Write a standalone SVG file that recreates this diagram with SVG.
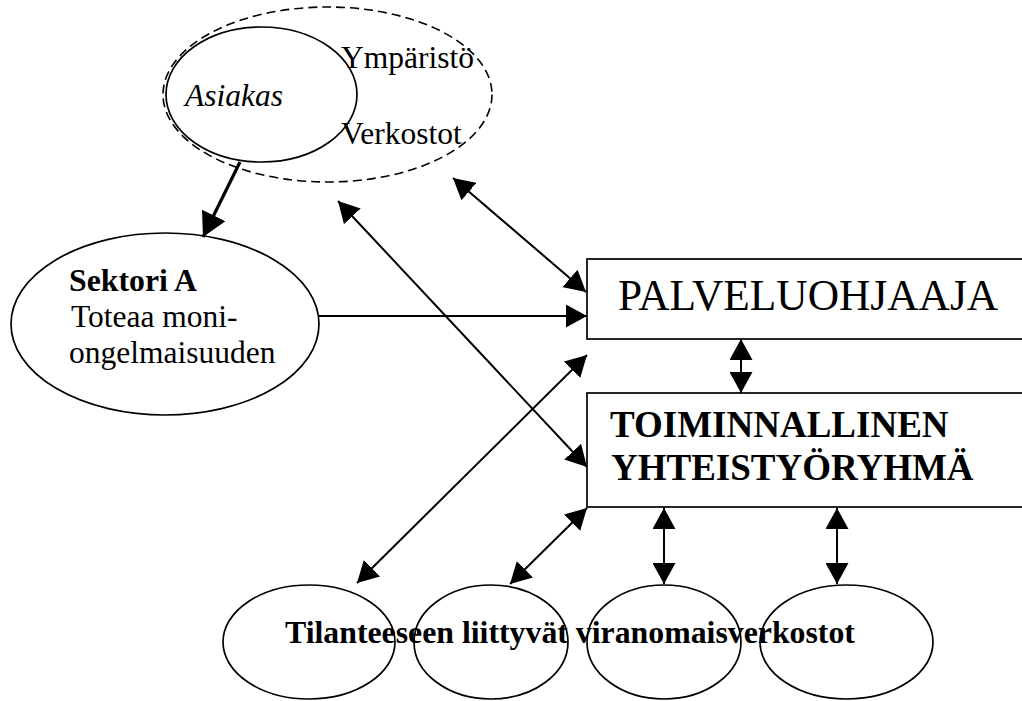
<svg xmlns="http://www.w3.org/2000/svg" width="1022" height="701" viewBox="0 0 1022 701">
  <style>
    .shape { fill: none; stroke: #000; stroke-width: 1.7; }
    .dashed { fill: none; stroke: #000; stroke-width: 1.6; stroke-dasharray: 9 5; }
    .conn { fill: none; stroke: #000; stroke-width: 2; }
    .conn-thick { fill: none; stroke: #000; stroke-width: 3.2; }
    .t { font-family: "Liberation Serif", "Times New Roman", serif; fill: #000; }
    .reg { font-size: 31.5px; }
    .it { font-size: 31.5px; font-style: italic; }
    .bold { font-size: 31.8px; font-weight: bold; }
    .big { font-size: 43.4px; }
    .bigbold { font-size: 37px; font-weight: bold; }
  </style>
  <defs>
    <marker id="head" markerUnits="userSpaceOnUse" markerWidth="21" markerHeight="23" refX="21" refY="11.5" orient="auto-start-reverse" viewBox="0 0 21 23">
      <path d="M0,0 L21,11.5 L0,23 Z" fill="#000"/>
    </marker>
    <marker id="head-lg" markerUnits="userSpaceOnUse" markerWidth="24" markerHeight="26" refX="24" refY="13" orient="auto" viewBox="0 0 24 26">
      <path d="M0,0 L24,13 L0,26 Z" fill="#000"/>
    </marker>
  </defs>

  <rect width="1022" height="701" fill="#fff"/>

  <!-- client and surroundings -->
  <g id="ymparisto">
    <ellipse class="dashed" cx="327.5" cy="94.5" rx="164.5" ry="87.5"/>
    <text class="t reg" x="341" y="68">Ympäristö</text>
    <text class="t reg" x="341" y="144">Verkostot</text>
  </g>
  <g id="asiakas">
    <ellipse class="shape" cx="261.5" cy="94.5" rx="95.5" ry="67.5"/>
    <text class="t it" x="185" y="106">Asiakas</text>
  </g>

  <!-- sector A -->
  <g id="sektori-a">
    <ellipse class="shape" cx="165" cy="324" rx="154" ry="91"/>
    <text class="t bold" x="69" y="291">Sektori A</text>
    <text class="t reg" x="71" y="327">Toteaa moni-</text>
    <text class="t reg" x="69" y="363">ongelmaisuuden</text>
  </g>

  <!-- service coordinator -->
  <g id="palveluohjaaja">
    <rect class="shape" x="587" y="259" width="460" height="80"/>
    <text class="t big" x="618" y="310">PALVELUOHJAAJA</text>
  </g>

  <!-- working group -->
  <g id="yhteistyoryhma">
    <rect class="shape" x="587" y="393" width="460" height="114"/>
    <text class="t bigbold" x="610" y="437">TOIMINNALLINEN</text>
    <text class="t bigbold" x="611" y="480">YHTEISTYÖRYHMÄ</text>
  </g>

  <!-- authority networks -->
  <g id="verkostot">
    <ellipse class="shape" cx="309" cy="642" rx="86" ry="57"/>
    <ellipse class="shape" cx="491" cy="642" rx="77" ry="57"/>
    <ellipse class="shape" cx="664" cy="642" rx="77" ry="57"/>
    <ellipse class="shape" cx="846.5" cy="642" rx="86.5" ry="57"/>
    <text class="t bold" x="285" y="643">Tilanteeseen liittyvät viranomaisverkostot</text>
  </g>

  <!-- connectors -->
  <g id="connectors">
    <line class="conn-thick" x1="240" y1="162" x2="203" y2="237" marker-end="url(#head-lg)"/>
    <line class="conn" x1="319" y1="316" x2="587" y2="316" marker-end="url(#head)"/>
    <line class="conn" x1="453" y1="178" x2="586" y2="292" marker-start="url(#head)" marker-end="url(#head)"/>
    <line class="conn" x1="338" y1="201" x2="587" y2="467" marker-start="url(#head)" marker-end="url(#head)"/>
    <line class="conn" x1="587" y1="355" x2="357" y2="583" marker-start="url(#head)" marker-end="url(#head)"/>
    <line class="conn" x1="587" y1="508" x2="510" y2="584" marker-start="url(#head)" marker-end="url(#head)"/>
    <line class="conn" x1="741" y1="339" x2="741" y2="393" marker-start="url(#head)" marker-end="url(#head)"/>
    <line class="conn" x1="664" y1="508" x2="664" y2="584" marker-start="url(#head)" marker-end="url(#head)"/>
    <line class="conn" x1="837" y1="508" x2="837" y2="584" marker-start="url(#head)" marker-end="url(#head)"/>
  </g>
</svg>
